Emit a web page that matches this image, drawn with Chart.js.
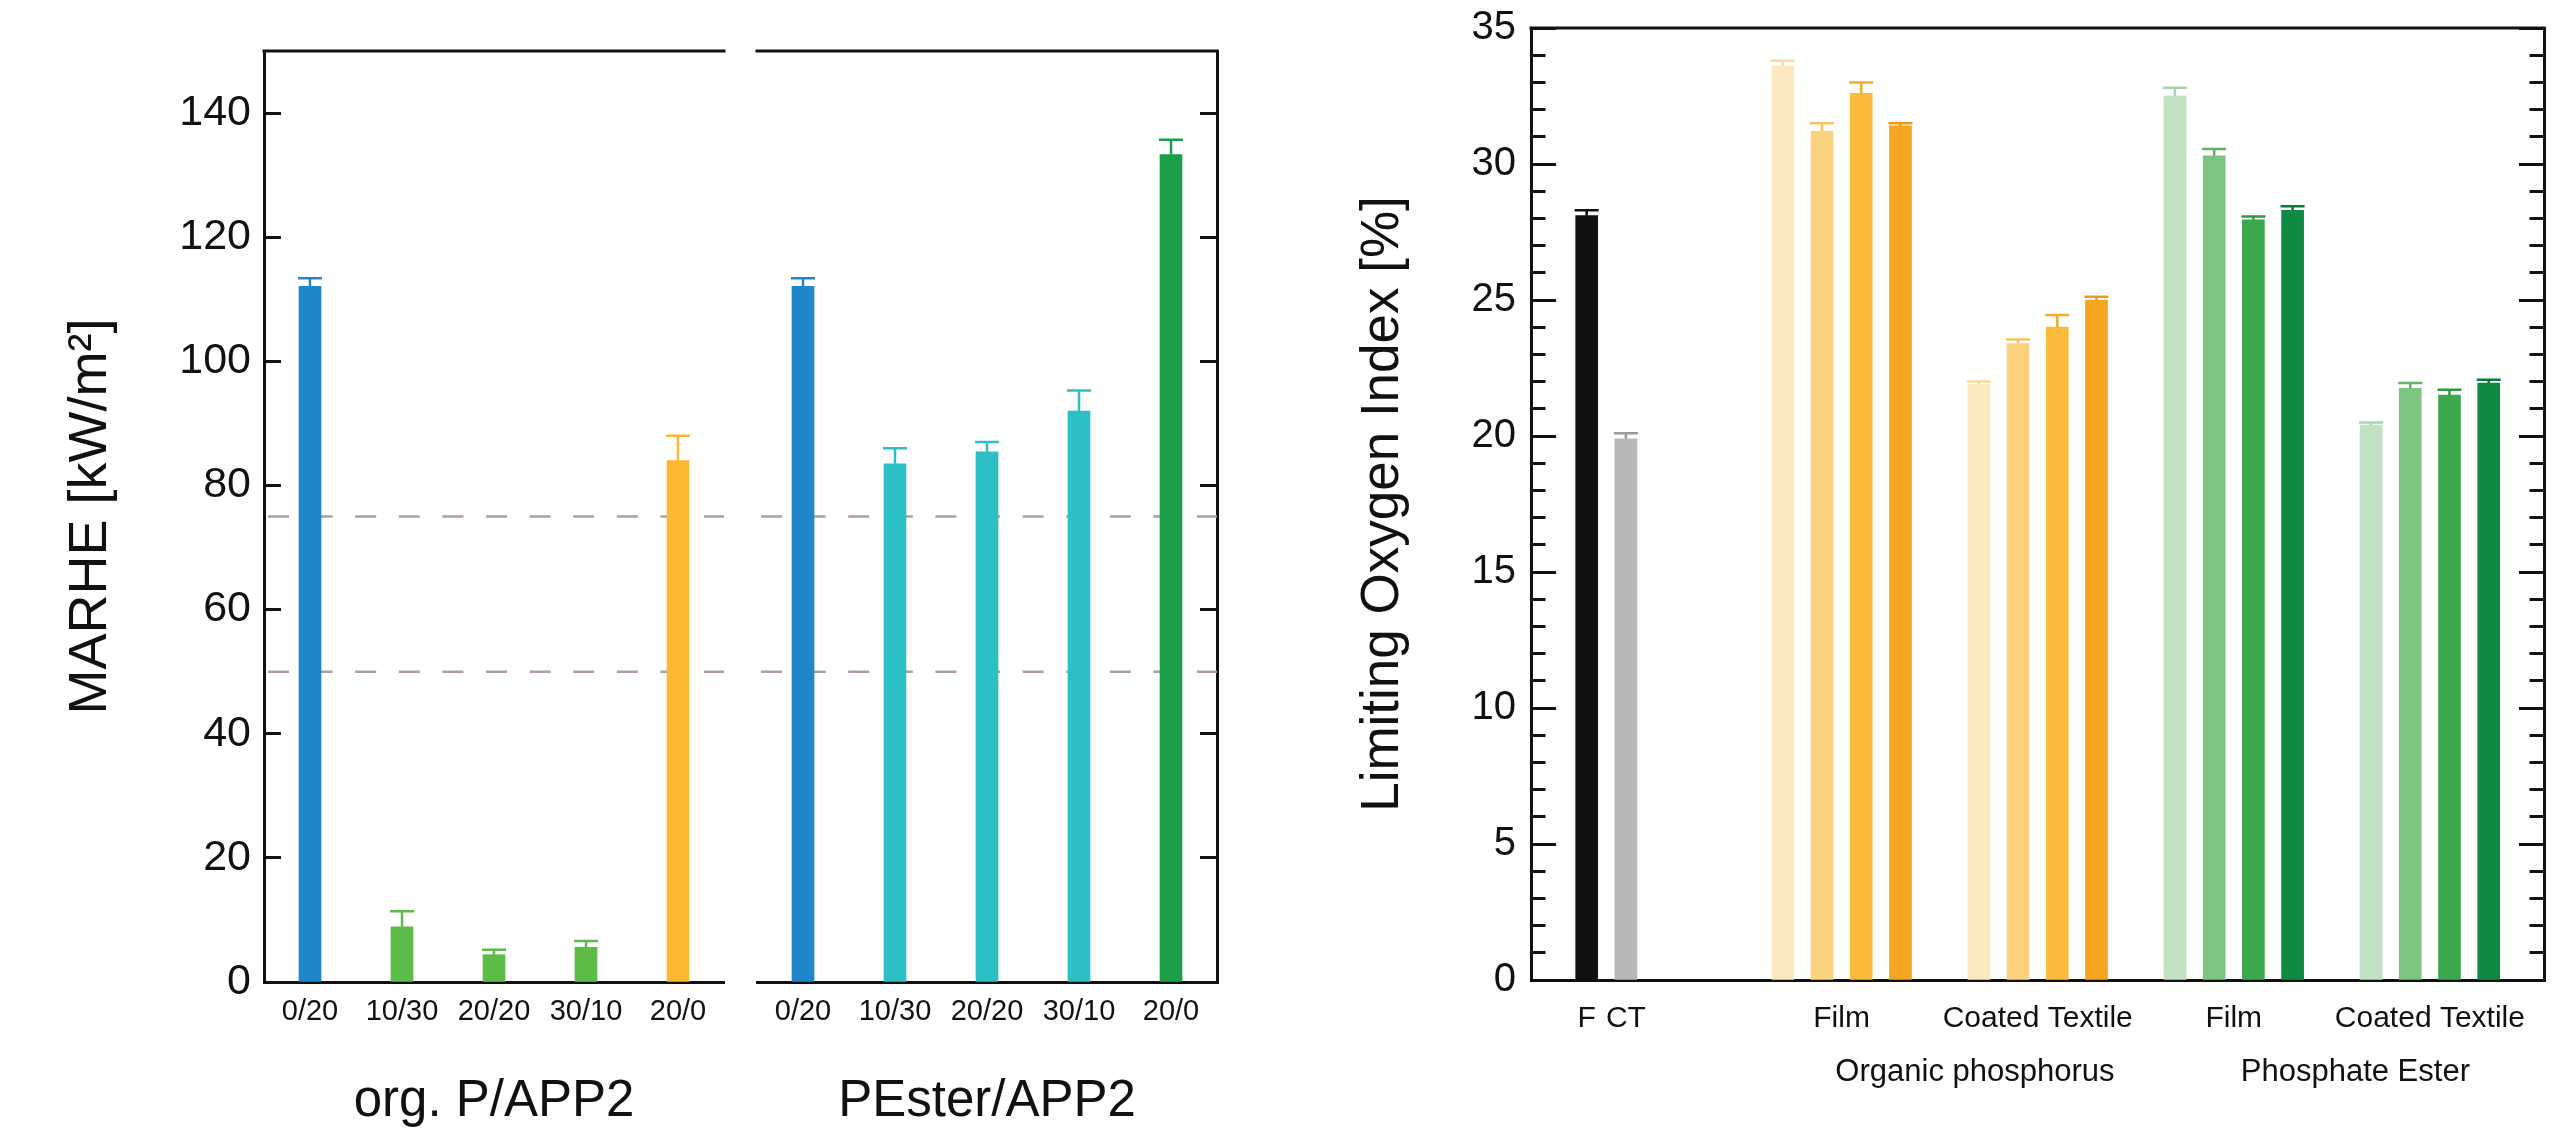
<!DOCTYPE html>
<html>
<head>
<meta charset="utf-8">
<script src="https://cdn.jsdelivr.net/npm/chart.js@4.4.1/dist/chart.umd.min.js"></script>
<style>
  html, body { margin: 0; padding: 0; background: #ffffff; width: 2562px; height: 1133px; overflow: hidden; }
  canvas { position: absolute; top: 0; }
  #cA { left: 0px; }
  #cB { left: 740px; }
  #cC { left: 1260px; }
</style>
</head>
<body>
<canvas id="cA" width="740" height="1133"></canvas>
<canvas id="cB" width="500" height="1133"></canvas>
<canvas id="cC" width="1302" height="1133"></canvas>
<script>
// ---------------- DATA ----------------
// MARHE chart
const marheCategories = ['0/20', '10/30', '20/20', '30/10', '20/0'];
const marheGroups = ['org. P/APP2', 'PEster/APP2'];
const orgPValues  = [112.1, 8.9, 4.4, 5.6, 84.0];
const orgPErrors  = [1.3, 2.5, 0.8, 1.0, 4.0];
const pesterValues = [112.1, 83.5, 85.4, 92.0, 133.3];
const pesterErrors = [1.3, 2.5, 1.6, 3.3, 2.4];
const referenceLines = [75, 50];
const marheTickStep = 20;

// LOI chart
const loiCategories = ['F', 'CT',
  'OP Film 1', 'OP Film 2', 'OP Film 3', 'OP Film 4',
  'OP CT 1', 'OP CT 2', 'OP CT 3', 'OP CT 4',
  'PE Film 1', 'PE Film 2', 'PE Film 3', 'PE Film 4',
  'PE CT 1', 'PE CT 2', 'PE CT 3', 'PE CT 4'];
const loiSlots  = [0, 1, 5, 6, 7, 8, 10, 11, 12, 13, 15, 16, 17, 18, 20, 21, 22, 23];
const loiValues = [28.1, 19.9, 33.6, 31.2, 32.6, 31.4, 21.9, 23.4, 24.0, 25.0, 32.5, 30.3, 27.95, 28.3, 20.4, 21.75, 21.5, 21.95];
const loiErrors = [0.2, 0.2, 0.2, 0.3, 0.4, 0.1, 0.1, 0.15, 0.45, 0.12, 0.3, 0.25, 0.12, 0.15, 0.1, 0.2, 0.2, 0.12];
const loiGroupLabels = ['F', 'CT', 'Film', 'Coated Textile', 'Film', 'Coated Textile'];
const loiGroupSlots  = [0, 1, 6.5, 11.5, 16.5, 21.5];
const loiClassLabels = ['Organic phosphorus', 'Phosphate Ester'];
const loiClassSlots  = [9.9, 19.6];

// ---------------- STYLES ----------------
const FONT = "'Liberation Sans', Arial, Helvetica, sans-serif";
const INK = '#111111';
const orgPColors   = ['#1f87c9', '#5dbb47', '#5dbb47', '#5dbb47', '#fbb832'];
const pesterColors = ['#1f87c9', '#2cbfc3', '#2cbfc3', '#2cbfc3', '#1b9f48'];
const orangeShades = ['#fde9bf', '#fcd17d', '#fbbb3c', '#f6a520'];
const greenShades  = ['#bfe0c1', '#7cc47f', '#3ba84b', '#0f8a42'];
const loiColors = ['#111111', '#b8b8b8']
  .concat(orangeShades, orangeShades, greenShades, greenShades);
const orangeErr = ['#f9dc9c', '#f7c266', '#f5ad2a', '#ef9a14'];
const greenErr  = ['#a9d3ab', '#62b366', '#2e9a3f', '#0b7a39'];
const loiErrColors = ['#111111', '#9a9a9a'].concat(orangeErr, orangeErr, greenErr, greenErr);

Chart.defaults.font.family = FONT;
Chart.defaults.color = INK;

// ---------------- PLUGINS ----------------
const errorBarsPlugin = {
  id: 'errorBars',
  afterDatasetsDraw(chart) {
    const ctx = chart.ctx;
    chart.data.datasets.forEach((ds, di) => {
      if (!ds.errors) return;
      const meta = chart.getDatasetMeta(di);
      const yScale = chart.scales[meta.yAxisID];
      meta.data.forEach((el, i) => {
        const raw = ds.data[i];
        const val = (raw !== null && typeof raw === 'object') ? raw.y : raw;
        const yTop = yScale.getPixelForValue(val + ds.errors[i]);
        const col = ds.errorColors ? ds.errorColors[i] : ds.backgroundColor[i];
        ctx.save();
        ctx.strokeStyle = col;
        ctx.lineWidth = 2.5;
        ctx.beginPath();
        ctx.moveTo(el.x, el.y);
        ctx.lineTo(el.x, yTop);
        ctx.moveTo(el.x - 12, yTop);
        ctx.lineTo(el.x + 12, yTop);
        ctx.stroke();
        ctx.restore();
      });
    });
  }
};

function makeRefLines(values) {
  return {
    id: 'refLines',
    beforeDatasetsDraw(chart) {
      const ctx = chart.ctx, a = chart.chartArea, y = chart.scales.y;
      ctx.save();
      ctx.strokeStyle = '#b39f9a';
      ctx.lineWidth = 2.5;
      ctx.setLineDash([21, 22.6]);
      ctx.lineDashOffset = -4;
      values.forEach(v => {
        const py = y.getPixelForValue(v);
        ctx.beginPath();
        ctx.moveTo(a.left, py);
        ctx.lineTo(a.right, py);
        ctx.stroke();
      });
      ctx.restore();
    }
  };
}

const framePlugin = {
  id: 'frameTop',
  afterDraw(chart) {
    const ctx = chart.ctx, a = chart.chartArea;
    ctx.save();
    ctx.strokeStyle = INK;
    ctx.lineWidth = 3;
    ctx.beginPath();
    ctx.moveTo(a.left - 1.5, a.top);
    ctx.lineTo(a.right + 1.5, a.top);
    ctx.stroke();
    ctx.restore();
  }
};

function fixV(width) {
  return s => { s.width = width; s.paddingTop = 0; s.paddingBottom = 0; };
}
function fixH(height) {
  return s => { s.height = height; s.paddingLeft = 0; s.paddingRight = 0; };
}

// ---------------- MARHE panels ----------------
function marheConfig(values, errors, colors, groupTitle, isLeft) {
  const yAxis = {
    min: 0, max: 150, bounds: 'data',
    position: isLeft ? 'left' : 'right',
    afterBuildTicks: s => { s.ticks = s.ticks.filter(t => t.value % marheTickStep === 0); },
    ticks: { stepSize: marheTickStep, includeBounds: false, display: isLeft, font: { size: 43 }, color: INK, padding: 30 },
    grid: { drawOnChartArea: false, tickLength: -17, tickWidth: 3, tickColor: INK },
    border: { display: true, color: INK, width: 3 },
    title: { display: isLeft, text: 'MARHE [kW/m²]', font: { size: 54 }, color: INK, padding: { top: 59, bottom: 0 } },
    afterFit: fixV(isLeft ? 264 : 23),
    z: 1
  };
  return {
    type: 'bar',
    data: {
      labels: marheCategories,
      datasets: [{ data: values, errors: errors, backgroundColor: colors, errorColors: colors, barThickness: 22, borderWidth: 0 }]
    },
    options: {
      responsive: false, animation: false,
      layout: { padding: isLeft ? { top: 51, right: 16, left: 0, bottom: 0 } : { top: 51, right: 0, left: 17, bottom: 0 } },
      plugins: { legend: { display: false }, tooltip: { enabled: false } },
      scales: {
        x: {
          grid: { display: false, drawTicks: false },
          border: { display: true, color: INK, width: 3 },
          ticks: { font: { size: 29 }, color: INK, padding: 12.5, maxRotation: 0, minRotation: 0, autoSkip: false },
          title: { display: true, text: groupTitle, font: { size: 51 }, color: INK, padding: { top: 0, bottom: 0 } },
          afterFit: fixH(151),
          z: 1
        },
        y: yAxis
      }
    },
    plugins: [makeRefLines(referenceLines), errorBarsPlugin, framePlugin]
  };
}

new Chart(document.getElementById('cA'), marheConfig(orgPValues, orgPErrors, orgPColors, marheGroups[0], true));
new Chart(document.getElementById('cB'), marheConfig(pesterValues, pesterErrors, pesterColors, marheGroups[1], false));

// ---------------- LOI chart ----------------
const loiPoints = loiValues.map((v, i) => ({ x: loiSlots[i], y: v }));
const xMin = -1.42, xMax = 24.41;
function vAxis(pos, weight, step, tickLen, width, extra) {
  return Object.assign({
    type: 'linear', position: pos, axis: 'y', weight: weight, min: 0, max: 35, bounds: 'data',
    ticks: { stepSize: step, maxTicksLimit: 100, display: false },
    grid: { drawOnChartArea: false, tickLength: tickLen, tickWidth: 3, tickColor: INK },
    border: { display: weight === 1, color: INK, width: 3 },
    afterFit: fixV(width),
    z: 1
  }, extra || {});
}

new Chart(document.getElementById('cC'), {
  type: 'bar',
  data: {
    datasets: [{
      data: loiPoints, label: 'LOI', errors: loiErrors,
      backgroundColor: loiColors, errorColors: loiErrColors,
      barThickness: 22, borderWidth: 0, xAxisID: 'x', yAxisID: 'y'
    }]
  },
  options: {
    responsive: false, animation: false,
    layout: { padding: { top: 28, right: 0, left: 0, bottom: 0 } },
    plugins: { legend: { display: false }, tooltip: { enabled: false } },
    scales: {
      x: {
        type: 'linear', axis: 'x', position: 'bottom', weight: 0, min: xMin, max: xMax, bounds: 'data', offset: false,
        grid: { display: false, drawTicks: false },
        border: { display: true, color: INK, width: 3 },
        afterBuildTicks: s => { s.ticks = loiGroupSlots.map(v => ({ value: v })); },
        ticks: { autoSkip: false, maxRotation: 0, minRotation: 0, font: { size: 30 }, color: INK, padding: 21,
                 callback: (v, i) => loiGroupLabels[i] },
        afterFit: fixH(60),
        z: 1
      },
      x2: {
        type: 'linear', axis: 'x', position: 'bottom', weight: 1, min: xMin, max: xMax, bounds: 'data', offset: false,
        grid: { display: false, drawTicks: false },
        border: { display: false },
        afterBuildTicks: s => { s.ticks = loiClassSlots.map(v => ({ value: v })); },
        ticks: { autoSkip: false, maxRotation: 0, minRotation: 0, font: { size: 31 }, color: INK, padding: 14,
                 callback: (v, i) => loiClassLabels[i] },
        afterFit: fixH(93)
      },
      y: vAxis('left', 1, 5, -25, 271, {
        ticks: { stepSize: 5, maxTicksLimit: 100, display: true, font: { size: 40 }, color: INK, padding: 40 },
        title: { display: true, text: 'Limiting Oxygen Index [%]', font: { size: 53 }, color: INK, padding: { top: 92, bottom: 0 } }
      }),
      yMinor: vAxis('left', 0, 1, -14.5, 0),
      yRight: vAxis('right', 1, 5, -25, 18),
      yRightMinor: vAxis('right', 0, 1, -14.5, 0)
    }
  },
  plugins: [errorBarsPlugin, framePlugin]
});
</script>
</body>
</html>
